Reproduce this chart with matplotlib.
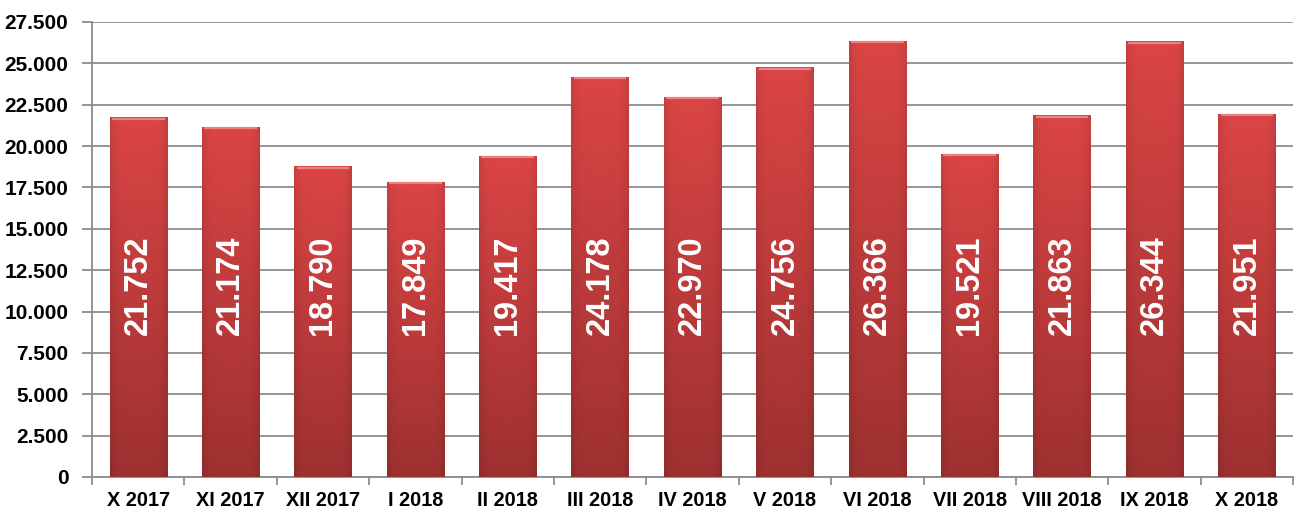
import matplotlib
matplotlib.use("Agg")
import matplotlib.pyplot as plt
import numpy as np
from matplotlib.ticker import FuncFormatter, MultipleLocator

categories = ["X 2017", "XI 2017", "XII 2017", "I 2018", "II 2018", "III 2018", "IV 2018",
              "V 2018", "VI 2018", "VII 2018", "VIII 2018", "IX 2018", "X 2018"]
values = [21752, 21174, 18790, 17849, 19417, 24178, 22970, 24756, 26366, 19521, 21863, 26344, 21951]
value_labels = ["21.752", "21.174", "18.790", "17.849", "19.417", "24.178", "22.970",
                "24.756", "26.366", "19.521", "21.863", "26.344", "21.951"]

plt.rcParams['font.family'] = ['Liberation Sans', 'DejaVu Sans']

fig = plt.figure(figsize=(12.97, 5.09), dpi=100)
ax = fig.add_axes([0.0709, 0.0629, 0.9261, 0.8939])

x = np.arange(len(categories))
bars = ax.bar(x, values, width=0.62, color="#c63b3b", zorder=3, linewidth=0)

# vertical gradient on each bar
grad = np.linspace(0, 1, 256).reshape(-1, 1)
top = np.array([0.86, 0.27, 0.27])
bot = np.array([0.62, 0.19, 0.19])
img = (bot[None, None, :] * (1 - grad[:, :, None]) + top[None, None, :] * grad[:, :, None])
hgrad = np.linspace(-1, 1, 64)
hfac = 1 - 0.10 * np.abs(hgrad) ** 6
img = img * hfac[None, :, None]
for b in bars:
    x0, w, h = b.get_x(), b.get_width(), b.get_height()
    im = ax.imshow(img, extent=[x0, x0 + w, 0, h], origin="lower", aspect="auto", zorder=3.5)
    im.set_clip_path(b)
    ax.plot([x0 + w * 0.04, x0 + w * 0.96], [h - 90, h - 90], color="#f08080", lw=1.6,
            zorder=4, solid_capstyle="butt")

for xi, lab in zip(x, value_labels):
    ax.text(xi, 11600, lab, rotation=90, ha="center", va="center", color="white",
            fontsize=23.5, fontweight="bold", zorder=5)

ax.set_xlim(-0.5, len(categories) - 0.5)
ax.set_ylim(0, 27500)
ax.yaxis.set_major_locator(MultipleLocator(2500))
ax.yaxis.set_major_formatter(FuncFormatter(lambda v, p: "0" if v == 0 else f"{int(v):,}".replace(",", ".")))
ax.grid(axis="y", color="#8c8c8c", linewidth=1.3, zorder=0)
ax.set_axisbelow(True)

ax.set_xticks(x)
ax.set_xticklabels(categories)
ax.set_xticks(np.arange(-0.5, len(categories)), minor=True)
ax.tick_params(axis="x", which="major", length=0, pad=10, labelsize=14.3)
ax.tick_params(axis="x", which="minor", length=6, color="#8c8c8c", width=1.3)
ax.tick_params(axis="y", length=7, color="#8c8c8c", width=1.3, labelsize=15, pad=10)
for lab in ax.get_xticklabels() + ax.get_yticklabels():
    lab.set_fontweight("bold")

for s in ["top", "right"]:
    ax.spines[s].set_visible(False)
for s in ["left", "bottom"]:
    ax.spines[s].set_color("#8c8c8c")
    ax.spines[s].set_linewidth(1.3)

fig.savefig("out.png", dpi=100)
